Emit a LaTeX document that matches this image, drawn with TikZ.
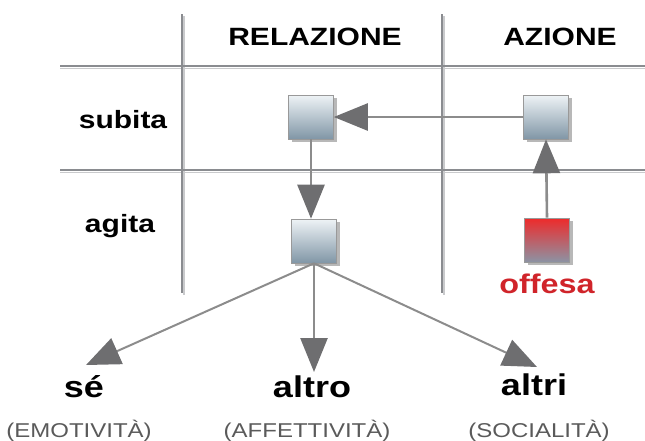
\documentclass[tikz,border=0pt]{standalone}
\usepackage{fontspec}
\setmainfont[FakeStretch=1.2]{Liberation Sans}
\usetikzlibrary{arrows.meta,shadows}

\definecolor{gridc}{HTML}{8A8C90}
\definecolor{gridsh}{HTML}{C9CACC}
\definecolor{arrc}{HTML}{8C8C8C}
\definecolor{headc}{HTML}{6E6E70}
\definecolor{boxtop}{HTML}{EEF3F6}
\definecolor{boxbot}{HTML}{8096A6}
\definecolor{redtop}{HTML}{EE2A2A}
\definecolor{redbot}{HTML}{8C93A4}
\definecolor{offc}{HTML}{D0242A}
\definecolor{subc}{HTML}{5A5A5A}

\tikzset{
  gridline/.style={gridc, line width=1.6pt},
  gridshadow/.style={gridsh, line width=1.6pt},
  cell/.style={minimum width=45pt, minimum height=44pt, inner sep=0pt,
    draw=gray!80, line width=0.6pt, top color=boxtop, bottom color=boxbot,
    drop shadow={shadow xshift=3pt, shadow yshift=-3pt, fill=gray!70, opacity=0.8}},
  redcell/.style={cell, top color=redtop, bottom color=redbot},
  flow/.style={arrc, line width=2.6pt,
    -{Triangle[length=34pt, width=27pt, fill=headc, color=headc]}},
  thinflow/.style={arrc, line width=2pt,
    -{Triangle[length=34pt, width=28pt, fill=headc, color=headc]}},
  head/.style={anchor=base, inner sep=0pt, font=\fontsize{25}{30}\selectfont\bfseries},
  who/.style={anchor=base, inner sep=0pt, font=\fontsize{30}{36}\selectfont\bfseries},
  sub/.style={anchor=base, inner sep=0pt, text=subc, font=\fontsize{20}{24}\selectfont},
}

\begin{document}
\begin{tikzpicture}[x=1pt, y=-1pt]
  \useasboundingbox (0,0) rectangle (645,440);

  % table grid: a light shadow line under each rule
  \draw[gridshadow] (60,68.5) -- (645,68.5);
  \draw[gridshadow] (60,172.5) -- (645,172.5);
  \draw[gridshadow] (184,16) -- (184,295);
  \draw[gridshadow] (444,16) -- (444,295);
  \draw[gridline] (60,66) -- (645,66);
  \draw[gridline] (60,170) -- (645,170);
  \draw[gridline] (182,14) -- (182,293);
  \draw[gridline] (442,14) -- (442,293);

  % headings
  \node[head] (rel) at (315,45) {RELAZIONE};
  \node[head] (az)  at (560,45) {AZIONE};
  \node[head] (sub) at (123,128) {subita};
  \node[head] (ag)  at (120,232) {agita};

  % cells
  \node[cell] (rs) at (311,117) {};
  \node[cell] (as) at (546,117) {};
  \node[cell] (ra) at (314,241) {};
  \node[redcell] (aa) at (547,240) {};
  \node[anchor=base, inner sep=0pt, text=offc,
        font=\fontsize{27}{32}\selectfont\bfseries] (off) at (547,293) {offesa};

  % arrow targets above the bottom labels
  \coordinate (tse) at (86,365);
  \coordinate (taltro) at (314,372);
  \coordinate (taltri) at (537,367);

  % connectors
  \draw[flow] (as.west) -- (rs.east);
  \draw[flow] (aa.north) -- (as.south);
  \draw[flow] (rs.south) -- (rs.south |- ra.north);
  \draw[thinflow] (ra.south) -- (tse);
  \draw[flow] (ra.south) -- (taltro);
  \draw[thinflow] (ra.south) -- (taltri);

  % bottom labels
  \node[who] (se) at (84,397) {sé};
  \node[who] (altro) at (312,397) {altro};
  \node[who] (altri) at (534,395) {altri};
  \node[sub] (emo) at (79,437) {(EMOTIVITÀ)};
  \node[sub] (aff) at (307,437) {(AFFETTIVITÀ)};
  \node[sub] (soc) at (539,437) {(SOCIALITÀ)};
\end{tikzpicture}
\end{document}
